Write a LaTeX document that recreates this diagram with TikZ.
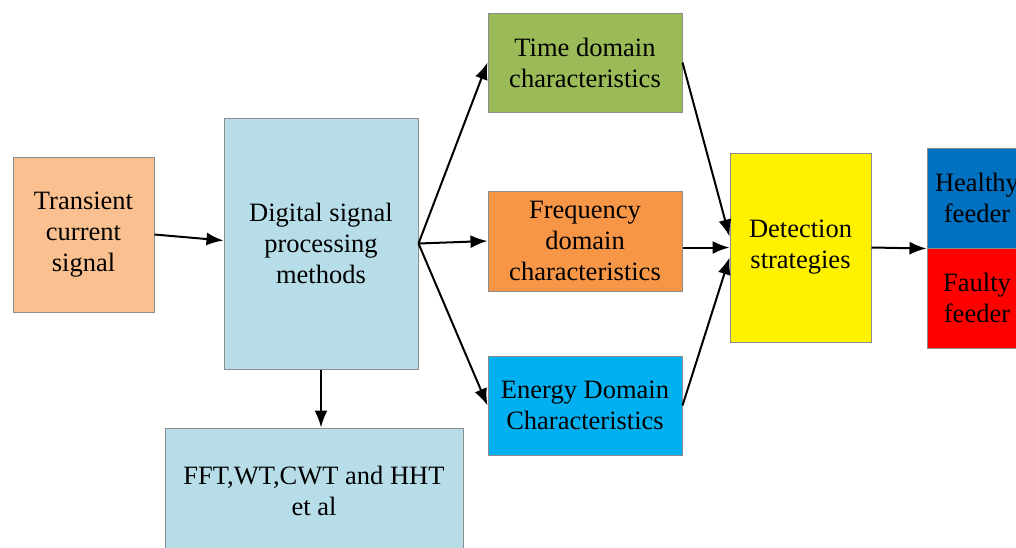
\documentclass[tikz,border=0pt]{standalone}
\usepackage{fontspec}
\setmainfont{Liberation Serif}
\usepackage{xcolor}
\usetikzlibrary{arrows.meta}

\definecolor{peach}{HTML}{FAC090}
\definecolor{paleblue}{HTML}{B7DDE8}
\definecolor{olive}{HTML}{9BBB59}
\definecolor{freqorange}{HTML}{F79646}
\definecolor{skyblue}{HTML}{00B0F0}
\definecolor{deepblue}{HTML}{0070C0}
\definecolor{edgegray}{HTML}{8C8C8C}

\begin{document}
\begin{tikzpicture}[x=1pt,y=-1pt,>={Latex[length=17pt,width=13pt]},line width=2pt]
%style for all boxes
\tikzstyle{box} = [rectangle, draw=edgegray, line width=1pt, inner sep=0pt, align=center,
  font=\fontsize{26.5}{31}\selectfont]

\clip (0,0) rectangle (1016,547);
\fill[white] (0,0) rectangle (1016,547);

%place nodes
\node[box, fill=peach, minimum width=141pt, minimum height=155pt] (trans) at (83.5,234.5) {Transient\\current\\signal};
\node[box, fill=paleblue, minimum width=194pt, minimum height=251pt] (dsp) at (321,243.5) {Digital signal\\processing\\methods};
\node[box, fill=olive, minimum width=194pt, minimum height=99pt] (time) at (585,62.5) {Time domain\\characteristics};
\node[box, fill=freqorange, minimum width=194pt, minimum height=100pt] (freq) at (585,241) {Frequency\\domain\\characteristics};
\node[box, fill=skyblue, minimum width=194pt, minimum height=99pt] (energy) at (585,405.5) {Energy Domain\\Characteristics};
\node[box, fill=yellow, minimum width=141pt, minimum height=189pt] (det) at (800.5,247.5) {Detection\\strategies};
\node[box, fill=deepblue, minimum width=100pt, minimum height=100pt] (healthy) at (977,198) {Healthy\\feeder};
\node[box, fill=red, minimum width=100pt, minimum height=100pt] (faulty) at (977,298) {Faulty\\feeder};
\node[box, fill=paleblue, minimum width=298pt, minimum height=126pt] (fft) at (314,491) {FFT,WT,CWT and HHT\\et al};

%connect nodes with arrows
\draw[->] (trans.east) -- ([yshift=3pt]dsp.west);
\draw[->] (dsp.east) -- (time.west);
\draw[->] (dsp.east) -- (freq.west);
\draw[->] (dsp.east) -- (energy.west);
\draw[->] (dsp.south) -- (dsp.south |- fft.north);

% arrows into detection strategies
\draw[->] (time.east) -- ([yshift=11pt]det.west);
\draw[->] (freq.east |- det.west) -- (det.west);
\draw[->] (energy.east) -- ([yshift=-10pt]det.west);

\draw[->] (det.east) -- (healthy.south west);
\end{tikzpicture}
\end{document}
